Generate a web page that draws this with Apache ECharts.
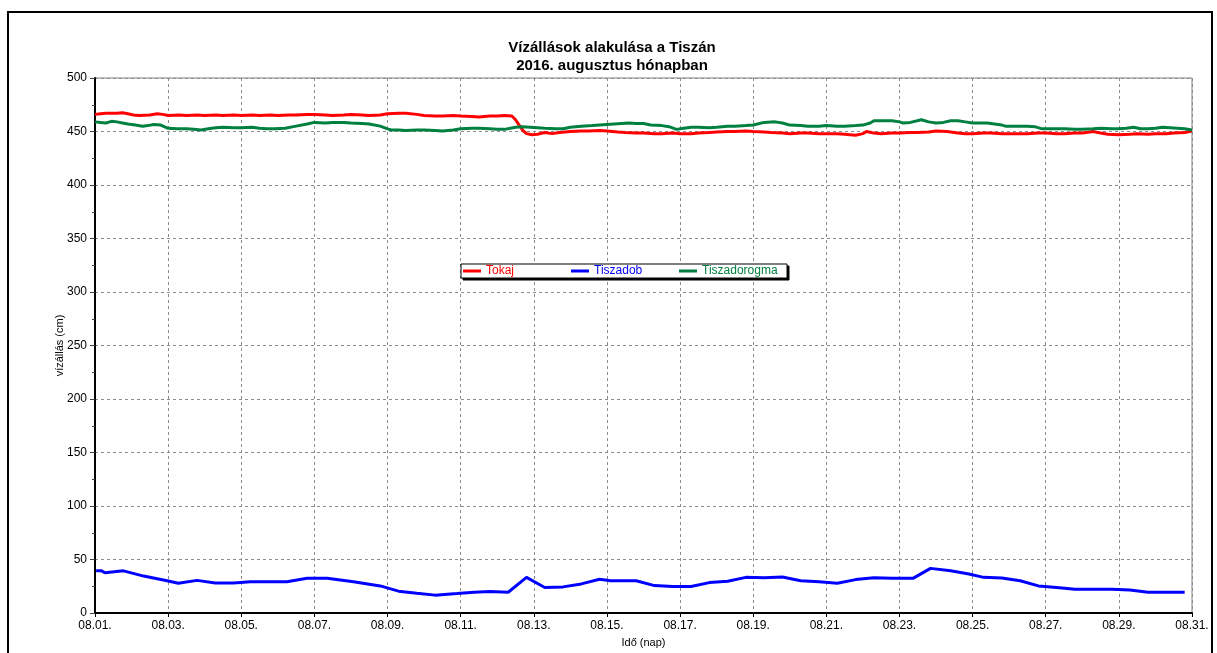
<!DOCTYPE html>
<html>
<head>
<meta charset="utf-8">
<script src="https://cdn.jsdelivr.net/npm/echarts@6/dist/echarts.min.js"></script>
<style>
html,body{margin:0;padding:0;background:#fff;}
#c{width:1217px;height:653px;}
</style>
</head>
<body>
<div id="c"></div>
<script>
// Day offsets from 08.01. 00:00 (0 = 08.01., 30 = 08.31.)
const dayLabels = ['08.01.','08.02.','08.03.','08.04.','08.05.','08.06.','08.07.','08.08.','08.09.','08.10.','08.11.','08.12.','08.13.','08.14.','08.15.','08.16.','08.17.','08.18.','08.19.','08.20.','08.21.','08.22.','08.23.','08.24.','08.25.','08.26.','08.27.','08.28.','08.29.','08.30.','08.31.'];
const seriesNames = ['Tokaj','Tiszadob','Tiszadorogma'];

const tokaj = [
[0,466],[0.15,466.5],[0.3,467],[0.6,467],[0.75,467.5],[0.9,466.5],[1.05,465.5],[1.2,465],[1.5,465.5],[1.7,466.5],[1.85,466],[2,465],[2.3,465.5],[2.5,465],[2.8,465.5],[3,465],[3.3,465.5],[3.5,465],[3.8,465.5],[4,465],[4.3,465.5],[4.5,465],[4.8,465.5],[5,465],[5.3,465.5],[5.5,465.5],[5.8,466],[6,466],[6.3,465.5],[6.5,465],[6.8,465.5],[7,466],[7.3,465.5],[7.5,465],[7.8,465.5],[8,466.5],[8.3,467],[8.5,467],[8.8,466],[9,465],[9.3,464.5],[9.5,464.5],[9.8,465],[10,464.5],[10.3,464],[10.5,463.5],[10.8,464.5],[11,464.5],[11.2,465],[11.4,464.5],[11.5,461],[11.6,456],[11.7,451],[11.8,448],[11.95,447],[12.1,447.5],[12.3,449],[12.5,448],[12.7,449],[13,450],[13.3,450.5],[13.5,450.5],[13.8,451],[14,450.5],[14.3,449.5],[14.5,449],[14.8,448.5],[15,448.5],[15.3,448],[15.5,448],[15.8,448.5],[16,448],[16.3,448],[16.5,448.5],[16.8,449],[17,449.5],[17.3,450],[17.5,450],[17.8,450.5],[18,450],[18.3,449.5],[18.5,449],[18.8,448.5],[19,448],[19.3,448.5],[19.5,448.5],[19.8,448],[20,448],[20.3,448],[20.5,447.5],[20.8,446.5],[21,448],[21.1,450],[21.3,448.5],[21.5,448],[21.8,448.5],[22,448.5],[22.3,449],[22.5,449],[22.8,449.5],[23,450.5],[23.3,450],[23.5,449],[23.6,448.5],[23.8,448],[24,448],[24.3,448.5],[24.5,448.5],[24.8,448],[25,448],[25.3,448],[25.5,448],[25.8,448.5],[26,448.5],[26.3,448],[26.5,448],[26.8,448.5],[27,448.5],[27.3,450],[27.5,448.5],[27.7,447.5],[28,447],[28.3,447.5],[28.5,448],[28.8,447.5],[29,448],[29.3,448],[29.5,448.5],[29.8,449],[30,450.5]
];

const tiszadorogma = [
[0,459],[0.15,458.5],[0.3,458],[0.45,459.5],[0.6,459],[0.75,458],[0.9,457],[1.1,456],[1.3,455],[1.45,455.5],[1.6,456.5],[1.8,456],[2,453],[2.25,452.5],[2.5,452.5],[2.7,452],[2.9,451.5],[3.1,452.5],[3.3,453.5],[3.5,454],[3.8,453.5],[4,453.5],[4.3,454],[4.5,453],[4.7,452.5],[4.9,452.5],[5.2,453],[5.5,455],[5.8,457],[6,458.5],[6.3,458],[6.5,458.5],[6.8,458.5],[7,458],[7.3,457.5],[7.5,457],[7.8,455],[8,452.5],[8.1,451.5],[8.3,451.5],[8.5,451],[8.8,451.5],[9,451.5],[9.3,451],[9.5,450.5],[9.8,451.5],[10,452.5],[10.3,453],[10.5,453],[10.8,452.5],[11,452],[11.2,452],[11.5,454],[11.7,454.5],[11.9,454],[12.1,453.5],[12.3,453],[12.6,452.5],[12.8,452.5],[13,454],[13.3,455],[13.6,455.5],[13.8,456],[14,456.5],[14.2,457],[14.4,457.5],[14.6,458],[14.8,457.5],[15,457.5],[15.2,456],[15.5,455.5],[15.7,454.5],[15.9,452],[16.1,453],[16.3,454],[16.5,454],[16.8,453.5],[17,454],[17.3,455],[17.5,455],[17.8,455.5],[18,456],[18.3,458.5],[18.6,459],[18.8,458],[19,456],[19.3,455.5],[19.5,455],[19.8,455],[20,455.5],[20.3,455],[20.5,455],[20.8,455.5],[21,456],[21.2,458],[21.3,460],[21.5,460],[21.8,460],[22,459],[22.1,458],[22.3,458.5],[22.6,461],[22.8,459],[23,458],[23.2,458.5],[23.4,460],[23.6,460],[23.8,459],[24,458],[24.2,458],[24.4,458],[24.6,457],[24.8,456],[24.9,455],[25.2,455],[25.5,455],[25.7,454.5],[25.9,452.5],[26.2,452.5],[26.5,452.5],[26.8,452],[27,452],[27.3,452.5],[27.5,453],[27.8,452.5],[28,452.5],[28.2,453],[28.4,454],[28.6,452.5],[28.8,452.5],[29,453],[29.2,454],[29.4,453.5],[29.6,453],[29.8,452.5],[30,451.5]
];

const tiszadob = [
[0.03,39.4],[0.18,39.4],[0.27,37.6],[0.78,39.4],[1.33,34.5],[1.97,30.2],[2.28,27.8],[2.79,30.5],[3.29,28],[3.79,28],[4.25,29.3],[5.25,29.3],[5.8,32.4],[6.35,32.4],[7.07,29.3],[7.8,25.3],[8.3,20.4],[8.8,18.5],[9.3,16.7],[9.9,18.2],[10.37,19.4],[10.8,20],[11.3,19.4],[11.8,33.3],[12.3,23.8],[12.8,24.4],[13.3,27.2],[13.8,31.5],[14.1,30.2],[14.8,30.2],[15.3,25.6],[15.8,24.7],[16.3,24.7],[16.8,28.4],[17.3,29.6],[17.8,33.3],[18.3,33],[18.8,33.6],[19.3,30.2],[19.8,29.3],[20.3,27.8],[20.8,31.2],[21.3,33],[21.8,32.4],[22.37,32.4],[22.85,41.7],[23.4,39.5],[23.9,36.4],[24.3,33.3],[24.8,32.7],[25.3,30.2],[25.8,25.3],[26.3,23.8],[26.8,22.2],[27.3,22.2],[27.8,22.2],[28.3,21.6],[28.8,19.4],[29.3,19.4],[29.8,19.4]
];

const colors = ['#ff0000','#0000ff','#008040'];
const FONT = 'Liberation Sans, Arial, sans-serif';

const chart = echarts.init(document.getElementById('c'), null, {renderer:'canvas'});
const gridDash = {color:'#8c8c8c', type:[3,3], width:1};

const legendLefts = [463, 571, 679];
const legends = seriesNames.map(function(n,i){
  return {
    left:legendLefts[i], top:265, data:[n], z:12,
    itemWidth:18, itemHeight:3, itemGap:0, icon:'rect', padding:0,
    textStyle:{fontFamily:FONT, fontSize:12, color:colors[i]}
  };
});

chart.setOption({
  animation:false,
  backgroundColor:'#fff',
  title:{
    text:'Vízállások alakulása a Tiszán\n2016. augusztus hónapban',
    left:607, top:34, textAlign:'center',
    textStyle:{fontFamily:FONT, fontSize:15, fontWeight:'bold', color:'#000', lineHeight:18}
  },
  graphic:[
    {type:'rect', shape:{x:8,y:12,width:1204,height:680},
     style:{fill:'none', stroke:'#000', lineWidth:2}, silent:true, z:-1},
    {type:'rect', shape:{x:463,y:266,width:326,height:14},
     style:{fill:'#000', stroke:'#000', lineWidth:1}, silent:true, z:10},
    {type:'rect', shape:{x:461,y:264,width:326,height:14},
     style:{fill:'#fff', stroke:'#000', lineWidth:1}, silent:true, z:11}
  ],
  legend:legends,
  grid:{left:95, right:25, top:78, bottom:40, show:true, borderColor:'#808080', borderWidth:1, backgroundColor:'transparent'},
  xAxis:{
    type:'value', min:0, max:30, interval:2,
    name:'Idő (nap)', nameLocation:'middle', nameGap:24, nameMoveOverlap:false,
    nameTextStyle:{fontFamily:FONT, fontSize:11, color:'#000'},
    axisLine:{show:true, lineStyle:{color:'#000', width:2}},
    axisTick:{show:true, length:4, lineStyle:{color:'#000'}},
    axisLabel:{fontFamily:FONT, fontSize:12, color:'#000', margin:7,
      formatter:function(v){ return dayLabels[Math.round(v)] || ''; }},
    splitLine:{show:true, lineStyle:gridDash}
  },
  yAxis:{
    type:'value', min:0, max:500, interval:50,
    name:'vízállás (cm)', nameLocation:'middle', nameGap:30, nameRotate:90, nameMoveOverlap:false,
    nameTextStyle:{fontFamily:FONT, fontSize:11, color:'#000'},
    axisLine:{show:true, lineStyle:{color:'#000', width:2}},
    axisTick:{show:true, length:5, lineStyle:{color:'#444'}},
    minorTick:{show:true, splitNumber:2, length:3, lineStyle:{color:'#444'}},
    axisLabel:{fontFamily:FONT, fontSize:12, color:'#000', margin:8},
    splitLine:{show:true, lineStyle:gridDash}
  },
  series:[
    {name:seriesNames[0], type:'line', data:tokaj, showSymbol:false, color:colors[0], lineStyle:{width:3, color:colors[0]}, z:3},
    {name:seriesNames[1], type:'line', data:tiszadob, showSymbol:false, color:colors[1], lineStyle:{width:3, color:colors[1]}, z:3},
    {name:seriesNames[2], type:'line', data:tiszadorogma, showSymbol:false, color:colors[2], lineStyle:{width:3, color:colors[2]}, z:4}
  ]
});
</script>
</body>
</html>
